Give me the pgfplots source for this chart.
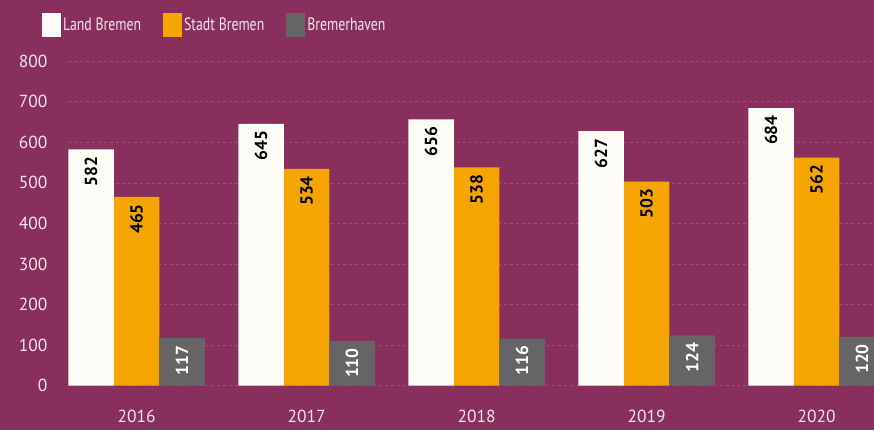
\documentclass[border=0pt]{standalone}
\usepackage{pgfplots}
\pgfplotsset{compat=1.18}
\usepackage{fontspec}
\setmainfont{PT Sans}
\newfontfamily\legfont[FakeStretch=0.77]{PT Sans}
\definecolor{bg}{RGB}{137,47,94}
\definecolor{barorange}{RGB}{245,165,0}
\definecolor{bargray}{RGB}{101,101,101}
\definecolor{barwhite}{RGB}{253,252,247}
\definecolor{gridc}{RGB}{160,78,118}
\definecolor{tickc}{RGB}{242,226,234}
\begin{document}
\begin{tikzpicture}[x=1bp,y=1bp]
\fill[bg] (0,0) rectangle (874,430);
\begin{axis}[
  at={(68bp,44.3bp)}, anchor=south west,
  scale only axis, width=806bp, height=324.7bp,
  ybar=0pt, bar width=45.5bp,
  xmin=-0.403, xmax=4.338,
  ymin=0, ymax=800,
  ytick={0,100,...,800},
  xtick={0,1,2,3,4},
  xticklabels={2016,2017,2018,2019,2020},
  axis line style={draw=none},
  major tick length=0pt,
  ymajorgrids,
  grid style={gridc, dashed, line width=0.5bp},
  /pgf/number format/assume math mode=true,
  tick label style={font=\fontsize{17.5}{17.5}\selectfont, text=tickc},
  yticklabel style={xshift=-17bp},
  xticklabel style={yshift=-21bp},
  nodes near coords,
  nodes near coords style={rotate=90, anchor=east, inner sep=7bp,
     font=\bfseries\fontsize{17.5}{17.5}\selectfont},
  legend columns=3,
  legend style={draw=none, fill=none, at={(axis description cs:0,1)},
     anchor=south west, xshift=-26bp, yshift=24bp,
     font=\legfont\fontsize{18}{18}\selectfont, text=tickc,
     /tikz/every even column/.append style={column sep=20bp},
     /tikz/every odd column/.append style={column sep=0bp},
     inner sep=0pt},
  legend image code/.code={\fill (0bp,-12bp) rectangle (19bp,12bp);},
]
\addplot[fill=barwhite, draw=none, every node near coord/.append style={text=black}]
  coordinates {(0,582) (1,645) (2,656) (3,627) (4,684)};
\addplot[fill=barorange, draw=none, every node near coord/.append style={text=black}]
  coordinates {(0,465) (1,534) (2,538) (3,503) (4,562)};
\addplot[fill=bargray, draw=none, every node near coord/.append style={text=white}]
  coordinates {(0,117) (1,110) (2,116) (3,124) (4,120)};
\legend{Land Bremen, Stadt Bremen, Bremerhaven}
\end{axis}
\pgfresetboundingbox
\path[use as bounding box] (0,0) rectangle (874,430);
\end{tikzpicture}
\end{document}
